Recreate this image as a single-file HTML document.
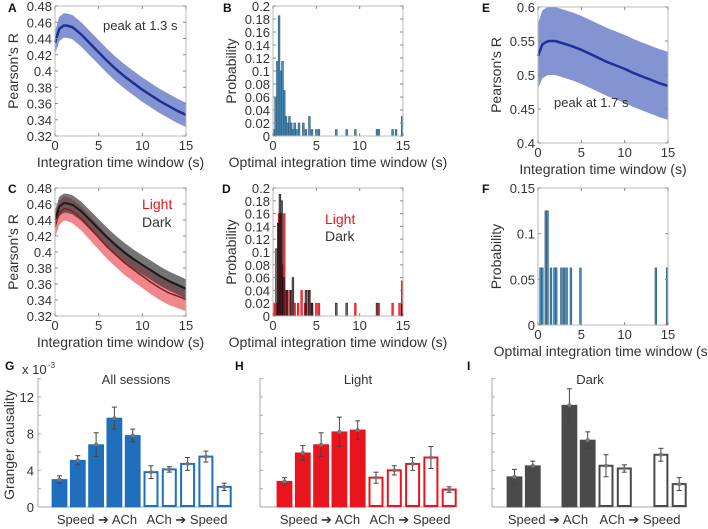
<!DOCTYPE html>
<html><head><meta charset="utf-8"><style>
body{margin:0;background:#fff}
svg{display:block;font-family:"Liberation Sans",sans-serif}
.t{font-size:13px;fill:#333}
.lab{font-size:14px;fill:#333}
.pl{font-size:12px;font-weight:bold;fill:#111}
</style></head><body>
<svg id="fig" width="708" height="529" viewBox="0 0 708 529" xmlns="http://www.w3.org/2000/svg"></svg>
<script>
const tx=[0,0.5,1,1.3,2,3,4,5,6,7,8,9,10,11,12,13,14,15];
const meanA=[0.435,0.452,0.456,0.456,0.454,0.445,0.434,0.423,0.412,0.402,0.393,0.385,0.377,0.370,0.363,0.357,0.351,0.346];
const semA=[0.014,0.015,0.015,0.015,0.015,0.015,0.015,0.015,0.015,0.015,0.015,0.015,0.015,0.015,0.015,0.015,0.015,0.015];
const meanDark=[0.440,0.457,0.461,0.461,0.459,0.451,0.440,0.429,0.418,0.408,0.399,0.391,0.384,0.377,0.370,0.364,0.359,0.354];
const semDark=[0.012,0.012,0.012,0.012,0.012,0.012,0.012,0.012,0.012,0.012,0.012,0.012,0.012,0.012,0.012,0.012,0.012,0.012];
const meanLight=[0.432,0.449,0.454,0.454,0.451,0.442,0.430,0.418,0.406,0.396,0.386,0.378,0.370,0.362,0.355,0.349,0.345,0.341];
const semLight=[0.014,0.015,0.015,0.015,0.015,0.015,0.015,0.015,0.015,0.015,0.015,0.015,0.015,0.015,0.015,0.015,0.015,0.015];
const meanE=[0.528,0.545,0.549,0.550,0.550,0.546,0.542,0.537,0.531,0.525,0.519,0.514,0.509,0.503,0.498,0.493,0.488,0.484];
const semE=[0.048,0.050,0.050,0.050,0.050,0.050,0.050,0.050,0.050,0.050,0.050,0.050,0.050,0.050,0.050,0.050,0.050,0.050];
const histBx=[0.1,0.3,0.5,0.7,0.9,1.1,1.3,1.5,1.7,1.9,2.1,2.3,2.5,2.7,3.0,3.5,3.8,4.2,4.5,5.0,5.3,7.3,8.5,9.5,12.0,12.2,13.8,14.2,14.9];
const histBy=[0.01,0.06,0.115,0.185,0.10,0.115,0.07,0.03,0.02,0.03,0.02,0.01,0.02,0.01,0.02,0.02,0.01,0.03,0.01,0.01,0.01,0.01,0.01,0.01,0.01,0.01,0.01,0.01,0.03];
const histLx=[0.1,0.5,0.7,0.9,1.1,1.3,1.5,1.9,2.5,2.9,3.3,3.7,4.1,4.5,5.0,5.3,9.5,12.2,13.8,14.6,14.9];
const histLy=[0.02,0.02,0.16,0.16,0.08,0.16,0.04,0.04,0.02,0.02,0.04,0.02,0.04,0.02,0.02,0.02,0.02,0.02,0.02,0.02,0.055];
const histDx=[0.4,0.6,0.8,1.0,1.2,1.6,2.1,2.3,3.8,4.2,4.5,7.3,8.5,12.0,14.9];
const histDy=[0.105,0.145,0.19,0.18,0.06,0.04,0.04,0.06,0.04,0.04,0.02,0.02,0.02,0.02,0.02];
const histFx=[0.3,0.5,0.9,1.1,1.5,1.9,2.1,2.7,3.0,3.3,3.8,4.9,13.6,14.9];
const histFy=[0.0625,0.0625,0.125,0.125,0.0625,0.0625,0.0625,0.0625,0.0625,0.0625,0.0625,0.0625,0.0625,0.0625];
const gcAll=[3.0,5.1,6.8,9.7,7.8,3.8,4.1,4.7,5.5,2.2];
const gcAllErr=[0.4,0.5,1.3,1.2,0.7,0.7,0.3,0.7,0.6,0.4];
const gcLight=[2.8,5.9,6.8,8.2,8.4,3.2,4.0,4.7,5.4,1.9];
const gcLightErr=[0.4,0.8,1.3,1.6,1.0,0.6,0.5,0.7,1.2,0.3];
const gcDarkSlot=[0,1,3,4,5,6,8,9];
const gcDark=[3.3,4.5,11.1,7.3,4.5,4.2,5.7,2.5];
const gcDarkErr=[0.8,0.5,1.8,0.9,1.2,0.4,0.7,0.7];
const gcDarkFilled=[1,1,1,1,0,0,0,0];

const NS='http://www.w3.org/2000/svg';
const svg=document.getElementById('fig');
function el(tag,at,parent){const e=document.createElementNS(NS,tag);for(const k in at)e.setAttribute(k,at[k]);(parent||svg).appendChild(e);return e;}
function txt(x,y,s,cls,anchor,extra){const e=el('text',Object.assign({x:x,y:y,class:cls,'text-anchor':anchor||'start'},extra||{}));e.textContent=s;return e;}

function axes(name,x0,y0,x1,y1,xmin,xmax,ymin,ymax,xt,yt,ytl,xlabel,ylabel){
  const g=el('g',{});
  
  
  const sx=v=>x0+(v-xmin)/(xmax-xmin)*(x1-x0);
  const sy=v=>y1-(v-ymin)/(ymax-ymin)*(y1-y0);
  return {g,sx,sy,finish(){
    el('rect',{x:x0,y:y0,width:x1-x0,height:y1-y0,fill:'none',stroke:'#bbb','stroke-width':1},g);
    xt.forEach(v=>{el('line',{x1:sx(v),x2:sx(v),y1:y1,y2:y1-3,stroke:'#888'},g);el('line',{x1:sx(v),x2:sx(v),y1:y0,y2:y0+3,stroke:'#888'},g);
      const t=txt(sx(v),y1+14,String(v),'t','middle');g.appendChild(t);});
    yt.forEach((v,i)=>{el('line',{x1:x0,x2:x0+3,y1:sy(v),y2:sy(v),stroke:'#888'},g);el('line',{x1:x1,x2:x1-3,y1:sy(v),y2:sy(v),stroke:'#888'},g);
      const t=txt(x0-3,sy(v)+5,ytl[i],'t','end');g.appendChild(t);});
    const xl=txt((x0+x1)/2,y1+31,xlabel,'lab','middle');g.appendChild(xl);
    const yl=txt(0,0,ylabel,'lab','middle',{transform:`translate(${x0-37},${(y0+y1)/2}) rotate(-90)`});g.appendChild(yl);
  }};
}
function band(ax,m,s,fill,op,name){
  let d='';tx.forEach((x,i)=>d+=(i?'L':'M')+ax.sx(x)+','+ax.sy(m[i]+s[i]));
  for(let i=tx.length-1;i>=0;i--)d+='L'+ax.sx(tx[i])+','+ax.sy(m[i]-s[i]);
  const p=el('path',{d:d+'Z',fill:fill,'fill-opacity':op},ax.g);
  
}
function line(ax,m,col,w,name){
  let d='';tx.forEach((x,i)=>d+=(i?'L':'M')+ax.sx(x)+','+ax.sy(m[i]));
  const p=el('path',{d:d,fill:'none',stroke:col,'stroke-width':w,'stroke-linejoin':'round'},ax.g);
  
}
function hist(ax,xs,ys,fill,stroke,op,name){
  xs.forEach((x,i)=>{const r=el('rect',{x:ax.sx(x-0.1),y:ax.sy(ys[i]),width:ax.sx(0.2)-ax.sx(0),height:ax.sy(0)-ax.sy(ys[i]),fill:fill,'fill-opacity':op,stroke:stroke,'stroke-width':0.6},ax.g);
    });
}
const T5=[0,5,10,15];
const rY=[0.32,0.34,0.36,0.38,0.4,0.42,0.44,0.46,0.48];
const rYl=['0.32','0.34','0.36','0.38','0.4','0.42','0.44','0.46','0.48'];
const pY=[0,0.02,0.04,0.06,0.08,0.1,0.12,0.14,0.16,0.18,0.2];
const pYl=['0','0.02','0.04','0.06','0.08','0.1','0.12','0.14','0.16','0.18','0.2'];

// A
let A=axes('panel-a-chart',55,6,186,136,0,15,0.32,0.48,T5,rY,rYl,'Integration time window (s)',"Pearson's R");
band(A,meanA,semA,'#8494d2',1,'all');line(A,meanA,'#1e2f98',2.5,'all');A.finish();
txt(103,30,'peak at 1.3 s','t','start',{});
// B
let B=axes('panel-b-chart',273,6,403,136,0,15,0,0.2,T5,pY,pYl,'Optimal integration time window (s)','Probability');
hist(B,histBx,histBy,'#4a8db8','#2a5577',1,'hist');B.finish();
// C
let C=axes('panel-c-chart',55,188,186,316,0,15,0.32,0.48,T5,rY,rYl,'Integration time window (s)',"Pearson's R");
band(C,meanLight,semLight,'#f07a80',0.9,'light');band(C,meanDark,semDark,'#3a3a3a',0.7,'dark');
line(C,meanLight,'#8a1a1a',1.5,'light');line(C,meanDark,'#1a1a1a',2,'dark');C.finish();
txt(142,209,'Light','lab','start',{style:'fill:#e8141e',});
txt(142,227,'Dark','lab','start',{});
// D
let D=axes('panel-d-chart',273,188,403,316,0,15,0,0.2,T5,pY,pYl,'Optimal integration time window (s)','Probability');
hist(D,histLx,histLy,'#e8141e','#e8141e',0.85,'light');hist(D,histDx,histDy,'#111','#111',0.6,'dark');D.finish();
txt(325,224,'Light','lab','start',{style:'fill:#e8141e',});
txt(325,241,'Dark','lab','start',{});
// E
let E=axes('panel-e-chart',538,7,668,143,0,15,0.4,0.6,T5,[0.4,0.45,0.5,0.55,0.6],['0.4','0.45','0.5','0.55','0.6'],'Integration time window (s)',"Pearson's R");
band(E,meanE,semE,'#8494d2',1,'e');line(E,meanE,'#1e2f98',2.5,'e');E.finish();
txt(554,107,'peak at 1.7 s','t','start',{});
// F
let F=axes('panel-f-chart',538,188,668,325,0,15,0,0.15,T5,[0,0.05,0.1,0.15],['0','0.05','0.1','0.15'],'Optimal integration time window (s)','Probability');
hist(F,histFx,histFy,'#4a8db8','#2a5577',1,'hist-f');F.finish();

// Granger panels
const gy=v=>507-v*110/12;
function granger(name,ax0,bx0,vals,errs,slots,filled,col,title,lab1,lab2){
  const g=el('g',{});
  
  
  el('line',{x1:ax0,x2:ax0,y1:378,y2:507,stroke:'#aaa'},g);
  el('line',{x1:ax0,x2:ax0+194,y1:507,y2:507,stroke:'#aaa'},g);
  [2,4,6,8,10,12,14].forEach(v=>el('line',{x1:ax0,x2:ax0+3,y1:gy(v),y2:gy(v),stroke:'#aaa'},g));
  const step=18.3;
  vals.forEach((v,i)=>{const s=slots[i];const x=bx0+s*step;const f=filled[i];
    const r=el('rect',{x:x+(f?0:1),y:gy(v),width:f?15:13,height:gy(0)-gy(v)-(f?0:1),fill:f?col:'#fff',stroke:col,'stroke-width':f?0.8:2},g);
    
    const cx=x+7.5;
    el('line',{x1:cx,x2:cx,y1:gy(v+errs[i]),y2:gy(v-errs[i]),stroke:'#444','stroke-width':1},g);
    el('line',{x1:cx-2.5,x2:cx+2.5,y1:gy(v+errs[i]),y2:gy(v+errs[i]),stroke:'#444'},g);
    el('line',{x1:cx-2.5,x2:cx+2.5,y1:gy(v-errs[i]),y2:gy(v-errs[i]),stroke:'#444'},g);
    el('circle',{cx:cx,cy:gy(v),r:2,fill:'#777'},g);
  });
  const t=txt(ax0+98,384,title,'t','middle');g.appendChild(t);
  const a=txt(lab1,524,'Speed ➔ ACh','t','middle');g.appendChild(a);
  const b=txt(lab2,524,'ACh ➔ Speed','t','middle');g.appendChild(b);
  return g;
}
const slots10=[0,1,2,3,4,5,6,7,8,9],fill10=[1,1,1,1,1,0,0,0,0,0];
granger('panel-g-chart',38,52,gcAll,gcAllErr,slots10,fill10,'#1f6fbd','All sessions',97,187);
granger('panel-h-chart',260,277,gcLight,gcLightErr,slots10,fill10,'#e8141e','Light',320,410);
granger('panel-i-chart',492,507,gcDark,gcDarkErr,gcDarkSlot,gcDarkFilled,'#4a4a4a','Dark',548,640);
[[12,gy(12)],[8,gy(8)],[4,gy(4)],[0,gy(0)]].forEach(p=>{const t=txt(34,p[1]+5,String(p[0]),'t','end');});
txt(0,0,'Granger causality','lab','middle',{transform:'translate(14,445) rotate(-90)',});
txt(22,374,'x 10','t','start',{});
txt(48,368,'-3','t','start',{style:'font-size:8px',});
// panel letters
[['A',8,12],['B',223,12],['E',482,12],['C',8,193],['D',222,193],['F',482,193],['G',5,370],['H',235,370],['I',467,370]].forEach(p=>{
  const t=txt(p[1],p[2],p[0],'pl');});
</script>
</body></html>
